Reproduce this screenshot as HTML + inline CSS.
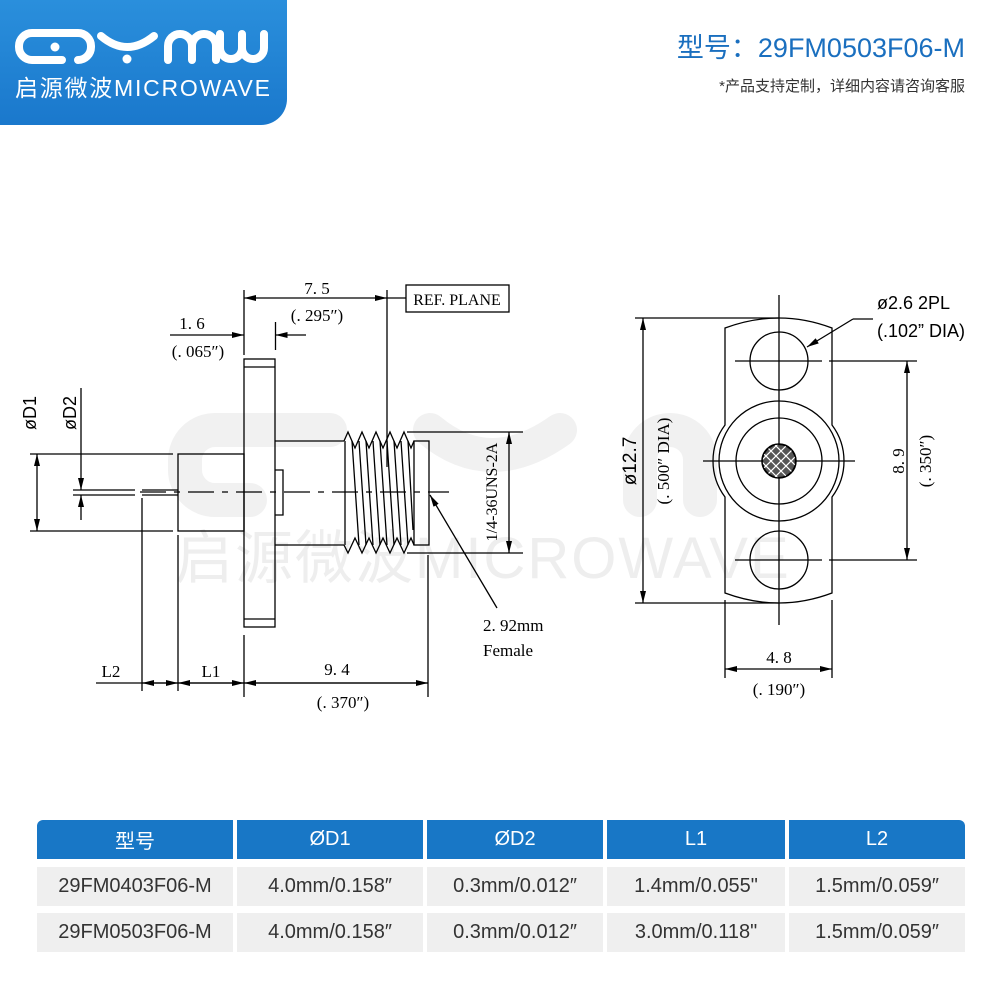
<!DOCTYPE html>
<html><head><meta charset="utf-8"><style>
html,body{margin:0;padding:0;background:#fff;}
body{width:1000px;height:1000px;position:relative;overflow:hidden;font-family:"Liberation Sans","Noto Sans CJK SC",sans-serif;}
.logo{position:absolute;left:0;top:0;width:287px;height:125px;background:linear-gradient(180deg,#2a8fdc,#1a78cc);border-bottom-right-radius:26px;}
.title{position:absolute;left:560px;top:26px;width:405px;text-align:right;color:#1a6fbf;font-size:27px;}
.sub{position:absolute;left:560px;top:75px;width:405px;text-align:right;color:#333;font-size:15px;}
.cell{position:absolute;display:flex;align-items:center;justify-content:center;font-size:20px;}
.h{background:#1877c6;color:#fff;top:820px;height:39px;}
.r{background:#efefef;color:#333;height:39px;}
</style></head><body>
<div class="logo">
<svg width="287" height="125" viewBox="0 0 287 125" style="position:absolute;left:0;top:0">
<g fill="none" stroke="#fff" stroke-width="8" stroke-linecap="round">
<path d="M62 60 H32 a13 13 0 0 1 -13 -13 v-1 a13 13 0 0 1 13 -13 H78 a13 13 0 0 1 13 13 v1 a13 13 0 0 1 -13 13"/>
<path d="M101 36 Q127 58 154 36"/>
<path d="M168 60 V46 a12 12 0 0 1 24 0 V60 M192 46 a12 12 0 0 1 24 0 V60"/>
<path d="M220 34 V48 a11 11 0 0 0 22 0 V34 M242 48 a11 11 0 0 0 22 0 V34"/>
</g>
<circle cx="55" cy="47" r="4.5" fill="#fff"/><circle cx="127" cy="59" r="4.5" fill="#fff"/>
<text x="15" y="96" fill="#fff" font-size="23" textLength="255" font-family="Liberation Sans,Noto Sans CJK SC,sans-serif">启源微波MICROWAVE</text>
</svg></div>
<div class="title">型号：29FM0503F06-M</div>
<div class="sub">*产品支持定制，详细内容请咨询客服</div>

<svg width="1000" height="800" style="position:absolute;left:0;top:0" font-family="Liberation Serif,serif">
<defs><marker id="a" markerWidth="12" markerHeight="6" refX="12" refY="3" orient="auto-start-reverse" markerUnits="userSpaceOnUse"><path d="M0 0 L12 3 L0 6z" fill="#000"/></marker></defs>
<text x="175" y="578" font-size="58" fill="#eeeeee" font-family="Liberation Sans,Noto Sans CJK SC,sans-serif" letter-spacing="2">启源微波MICROWAVE</text>
<g fill="none" stroke="#f1f1f1" stroke-width="34" stroke-linecap="round"><path d="M250 500 H215 a30 30 0 0 1 -30 -30 v-10 a30 30 0 0 1 30 -30 H330"/><path d="M430 430 Q490 480 560 430"/><path d="M640 500 V460 a30 30 0 0 1 60 0 V500"/></g>
<g stroke="#000" stroke-width="1.3" fill="none">
<rect x="244" y="359" width="31" height="268"/>
<line x1="244" y1="367" x2="275" y2="367"/><line x1="244" y1="619" x2="275" y2="619"/>
<rect x="178" y="454" width="66" height="77"/>
<line x1="142" y1="490" x2="178" y2="490"/><line x1="142" y1="495" x2="178" y2="495"/>
<line x1="73" y1="490" x2="135" y2="490"/><line x1="73" y1="495" x2="135" y2="495"/>
<line x1="30" y1="454" x2="173" y2="454"/><line x1="30" y1="531" x2="173" y2="531"/>
<line x1="37" y1="454" x2="37" y2="531" marker-start="url(#a)" marker-end="url(#a)"/>
<line x1="81" y1="388" x2="81" y2="490" marker-end="url(#a)"/>
<line x1="81" y1="520" x2="81" y2="495" marker-end="url(#a)"/>
<path d="M275 441 H344 M275 545 H344 M275 470 H283 V515 H275"/>
<path d="M344 441 L348 432 L355 448 L362 432 L369 448 L376 432 L383 448 L390 432 L397 448 L404 432 L411 448 L414 441"/>
<path d="M344 545 L348 553 L355 538 L362 553 L369 538 L376 553 L383 538 L390 553 L397 538 L404 553 L411 538 L414 545"/>
<path d="M345 441 L345 545 M352 441 L359 545 M359 441 L366 545 M366 441 L373 545 M373 441 L380 545 M380 441 L387 545 M387 441 L394 545 M394 441 L401 545 M401 441 L408 545 M408 441 L413 530"/>
<rect x="414" y="441" width="15" height="104"/>
<line x1="140" y1="492" x2="449" y2="492" stroke-dasharray="26,8,6,8"/>
<line x1="387" y1="290" x2="387" y2="467"/>
<line x1="244" y1="290" x2="244" y2="355"/>
<line x1="244" y1="298" x2="387" y2="298" marker-start="url(#a)" marker-end="url(#a)"/>
<line x1="387" y1="298" x2="406" y2="298"/>
<rect x="406" y="285" width="103" height="27"/>
<line x1="275.5" y1="322" x2="275.5" y2="350"/>
<line x1="170" y1="335" x2="244" y2="335" marker-end="url(#a)"/>
<line x1="306" y1="335" x2="275.5" y2="335" marker-end="url(#a)"/>
<line x1="407" y1="432" x2="523" y2="432"/><line x1="407" y1="553" x2="523" y2="553"/>
<line x1="509" y1="432" x2="509" y2="553" marker-start="url(#a)" marker-end="url(#a)"/>
<line x1="497" y1="608" x2="430" y2="495" marker-end="url(#a)"/>
<line x1="142" y1="498" x2="142" y2="691"/><line x1="178" y1="535" x2="178" y2="691"/>
<line x1="244" y1="635" x2="244" y2="697"/><line x1="428" y1="555" x2="428" y2="697"/>
<line x1="96" y1="683" x2="428" y2="683"/>
<line x1="160" y1="683" x2="142" y2="683" marker-end="url(#a)"/><line x1="160" y1="683" x2="178" y2="683" marker-end="url(#a)"/>
<line x1="210" y1="683" x2="178" y2="683" marker-end="url(#a)"/><line x1="210" y1="683" x2="244" y2="683" marker-end="url(#a)"/>
<line x1="330" y1="683" x2="244" y2="683" marker-end="url(#a)"/><line x1="330" y1="683" x2="428" y2="683" marker-end="url(#a)"/>
<path d="M725 328 Q779 308 832 328 V425 A60 60 0 0 1 832 497 V593 Q779 613 725 593 V497 A60 60 0 0 1 725 425 Z"/>
<circle cx="779" cy="461" r="60"/><circle cx="779" cy="461" r="43"/>
<circle cx="779" cy="361" r="29"/><circle cx="779" cy="560" r="29"/>
<line x1="779" y1="295" x2="779" y2="625"/>
<line x1="703" y1="461" x2="855" y2="461"/>
<path d="M735 361 H822 M829 361 H917 M735 560 H822 M829 560 H917"/>
<line x1="907" y1="361" x2="907" y2="560" marker-start="url(#a)" marker-end="url(#a)"/>
<path d="M635 318 H779 M635 603 H779"/>
<line x1="643" y1="318" x2="643" y2="603" marker-start="url(#a)" marker-end="url(#a)"/>
<line x1="725" y1="600" x2="725" y2="678"/><line x1="832" y1="600" x2="832" y2="678"/>
<line x1="725" y1="669" x2="832" y2="669" marker-start="url(#a)" marker-end="url(#a)"/>
<path d="M873 319 H853"/><line x1="853" y1="319" x2="807" y2="347" marker-end="url(#a)"/>
</g>
<clipPath id="pc"><circle cx="779" cy="461" r="17"/></clipPath>
<g clip-path="url(#pc)" stroke="#000" stroke-width="2.2">
<circle cx="779" cy="461" r="17" fill="#555"/>
<path d="M755 445 L800 490 M760 440 L805 485 M765 435 L810 480 M750 450 L795 495 M745 455 L790 500 M755 477 L800 432 M760 482 L805 437 M750 472 L795 427 M765 487 L810 442 M745 467 L790 422" stroke="#fff" stroke-width="1.2"/>
</g>
<circle cx="779" cy="461" r="17" fill="none" stroke="#000" stroke-width="1.5"/>
<g font-size="17" fill="#000">
<text x="317" y="294" text-anchor="middle">7. 5</text>
<text x="317" y="321" text-anchor="middle">(. 295″)</text>
<text x="457" y="305" text-anchor="middle" font-size="16">REF. PLANE</text>
<text x="192" y="329" text-anchor="middle">1. 6</text>
<text x="198" y="357" text-anchor="middle">(. 065″)</text>
<text x="111" y="677" text-anchor="middle">L2</text>
<text x="211" y="677" text-anchor="middle">L1</text>
<text x="337" y="675" text-anchor="middle">9. 4</text>
<text x="343" y="708" text-anchor="middle">(. 370″)</text>
<text x="483" y="631">2. 92mm</text>
<text x="483" y="656">Female</text>
<text transform="translate(497,492) rotate(-90)" text-anchor="middle" font-size="16">1/4-36UNS-2A</text>
<text transform="translate(904,461) rotate(-90)" text-anchor="middle">8. 9</text>
<text transform="translate(931,461) rotate(-90)" text-anchor="middle">(. 350″)</text>
<text transform="translate(669,461) rotate(-90)" text-anchor="middle">(. 500″  DIA)</text>
<text x="779" y="663" text-anchor="middle">4. 8</text>
<text x="779" y="695" text-anchor="middle">(. 190″)</text>
</g>
<g font-family="Liberation Sans,sans-serif" font-size="18" fill="#000">
<text transform="translate(36,413) rotate(-90)" text-anchor="middle">øD1</text>
<text transform="translate(76,413) rotate(-90)" text-anchor="middle">øD2</text>
<text transform="translate(636,461) rotate(-90)" text-anchor="middle" font-size="19">ø12.7</text>
<text x="877" y="309">ø2.6  2PL</text>
<text x="877" y="337">(.102”  DIA)</text>
</g>
</svg>

<div class="cell h" style="left:37px;width:196px;border-top-left-radius:6px;">型号</div>
<div class="cell h" style="left:237px;width:186px;">ØD1</div>
<div class="cell h" style="left:427px;width:176px;">ØD2</div>
<div class="cell h" style="left:607px;width:178px;">L1</div>
<div class="cell h" style="left:789px;width:176px;border-top-right-radius:6px;">L2</div>
<div class="cell r" style="top:867px;left:37px;width:196px;">29FM0403F06-M</div>
<div class="cell r" style="top:867px;left:237px;width:186px;">4.0mm/0.158″</div>
<div class="cell r" style="top:867px;left:427px;width:176px;">0.3mm/0.012″</div>
<div class="cell r" style="top:867px;left:607px;width:178px;">1.4mm/0.055"</div>
<div class="cell r" style="top:867px;left:789px;width:176px;">1.5mm/0.059″</div>
<div class="cell r" style="top:913px;left:37px;width:196px;">29FM0503F06-M</div>
<div class="cell r" style="top:913px;left:237px;width:186px;">4.0mm/0.158″</div>
<div class="cell r" style="top:913px;left:427px;width:176px;">0.3mm/0.012″</div>
<div class="cell r" style="top:913px;left:607px;width:178px;">3.0mm/0.118"</div>
<div class="cell r" style="top:913px;left:789px;width:176px;">1.5mm/0.059″</div>
</body></html>
